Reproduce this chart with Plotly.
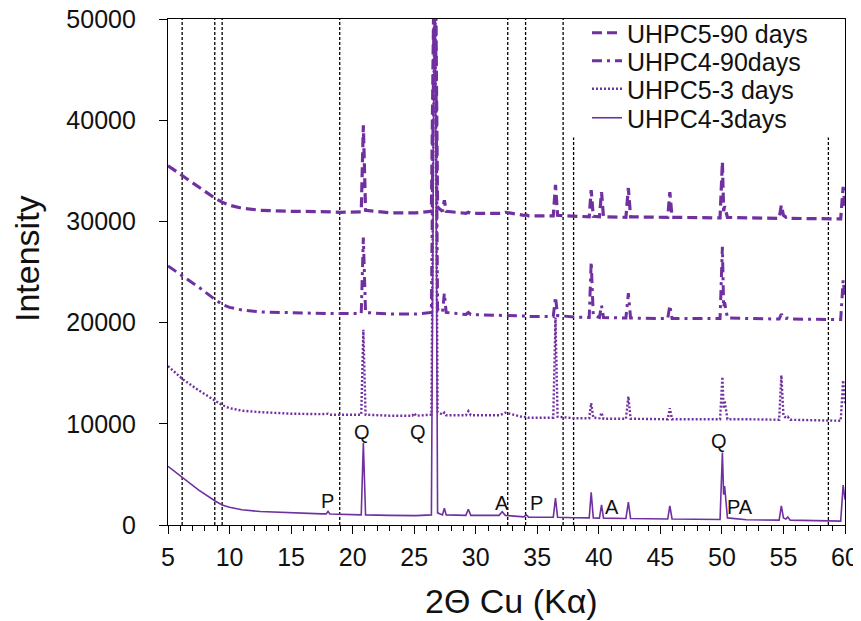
import plotly.graph_objects as go

# ---- data ----
two_theta = [5, 6.2, 7.5, 8.8, 9.4, 10, 11, 12.5, 15, 17.5,
             17.85, 18.0, 18.15, 19.0, 20.7, 20.87, 21.05, 23.0, 24.85, 25.0,
             25.15, 26.4, 26.62, 26.68, 26.9, 27.3, 27.45, 27.6, 29.2, 29.4,
             29.6, 31.9, 32.15, 32.4, 33.9, 34.1, 34.3, 36.3, 36.48, 36.65,
             38.0, 39.22, 39.38, 39.55, 40.05, 40.22, 40.38, 42.2, 42.4, 42.58,
             45.6, 45.77, 45.95, 49.85, 50.04, 50.14, 50.22, 50.45, 52.0, 54.65,
             54.83, 55.0, 55.2, 55.35, 55.55, 57.5, 59.65, 59.85, 60.0]

uhpc4_3d = [5800, 4650, 3450, 2400, 1980, 1750, 1500, 1330, 1180, 1100,
            1100, 1350, 1080, 1030, 1000, 8100, 1000, 950, 930, 1000,
            930, 1000, 62000, 62000, 1200, 1000, 1650, 1000, 950, 1550,
            950, 950, 1300, 950, 800, 1000, 780, 770, 2650, 760,
            720, 700, 3230, 700, 680, 2000, 680, 640, 2250, 640,
            600, 1900, 600, 540, 7150, 3000, 3850, 700, 520, 480,
            1900, 700, 600, 800, 480, 420, 380, 3950, 2500]

uhpc5_3d = [15700, 14400, 13300, 12300, 11850, 11550, 11300, 11150, 11000, 10950,
            10950, 11000, 10900, 10880, 10900, 19300, 10900, 10800, 10800, 11050,
            10800, 10900, 62000, 62000, 11200, 10900, 11100, 10850, 10850, 11250,
            10850, 10850, 10950, 11100, 10650, 10700, 10600, 10600, 20500, 10700,
            10550, 10550, 12050, 10600, 10550, 11100, 10500, 10500, 12700, 10500,
            10450, 11550, 10450, 10450, 14650, 11500, 12300, 10450, 10450, 10400,
            14800, 10800, 10600, 10700, 10400, 10350, 10300, 14300, 12000]

uhpc4_90d = [25600, 24600, 23500, 22300, 21800, 21500, 21250, 21050, 20950, 20900,
             20900, 20950, 20900, 20900, 20900, 28400, 21000, 20850, 20850, 20900,
             20850, 21000, 62000, 62000, 21300, 21000, 22900, 21000, 20800, 21000,
             20800, 20700, 20750, 20700, 20650, 20700, 20600, 20600, 22550, 20700,
             20550, 20500, 26000, 20700, 20500, 21700, 20500, 20450, 22900, 20450,
             20400, 21700, 20400, 20400, 27500, 21500, 22000, 20450, 20400, 20350,
             20850, 20450, 20400, 20450, 20350, 20350, 20300, 24200, 22500]

uhpc5_90d = [35500, 34500, 33400, 32300, 31900, 31600, 31300, 31100, 31000, 30950,
             30950, 31000, 30950, 30900, 30950, 39500, 31100, 30850, 30850, 30900,
             30850, 31000, 62000, 62000, 31400, 31000, 32100, 31000, 30800, 30900,
             30800, 30750, 30800, 30900, 30600, 30650, 30550, 30550, 33600, 30600,
             30500, 30450, 33100, 30500, 30450, 32900, 30450, 30400, 33300, 30450,
             30400, 32900, 30400, 30350, 35900, 31000, 31500, 30400, 30350, 30300,
             31600, 30600, 30400, 30450, 30300, 30300, 30250, 33400, 31500]

series_names = ["UHPC5-90 days", "UHPC4-90days", "UHPC5-3 days", "UHPC4-3days"]

ref_lines_full = [6.15, 8.8, 9.4, 18.95, 32.6, 34.05, 37.1]
ref_lines_short = [37.95, 58.65]
short_line_top = 38300

peak_labels = ["P", "Q", "Q", "A", "P", "A", "Q", "PA"]
peak_label_x = [17.95, 20.78, 25.33, 32.1, 34.95, 41.05, 49.76, 51.5]
peak_label_y = [2400, 9220, 9220, 2140, 2140, 1810, 8330, 1810]

x_ticks = [5, 10, 15, 20, 25, 30, 35, 40, 45, 50, 55, 60]
y_ticks = [0, 10000, 20000, 30000, 40000, 50000]

x_title = "2Θ Cu (Kα)"
y_title = "Intensity"

# ---- figure ----
PURPLE = "#7030A0"
FONT = "Liberation Sans, Arial"
PAGE_OFFSET = 8  # default body margin of the html page
ys = [uhpc5_90d, uhpc4_90d, uhpc5_3d, uhpc4_3d]
dashes = ["10px,5px", "10px,5px,3px,5px", "2px,2px", "solid"]
widths = [3.2, 3.0, 2.4, 1.6]
legend_ids = ["legend", "legend2", "legend3", "legend4"]
legend_rows_px = [25, 53, 81, 110]
legend_y = [1 - v / 621 for v in legend_rows_px]

fig = go.Figure()
for name, y, d, w, lg in zip(series_names, ys, dashes, widths, legend_ids):
    fig.add_trace(go.Scatter(x=two_theta, y=y, mode="lines", name=name,
                             line=dict(color=PURPLE, width=w, dash=d),
                             legend=lg))

shapes = []
for xv in ref_lines_full:
    shapes.append(dict(type="line", xref="x", yref="y", x0=xv, x1=xv, y0=0, y1=50000,
                       line=dict(color="black", width=1.3, dash="3px,2px"), layer="below"))
for xv in ref_lines_short:
    shapes.append(dict(type="line", xref="x", yref="y", x0=xv, x1=xv, y0=0, y1=short_line_top,
                       line=dict(color="black", width=1.3, dash="3px,2px"), layer="below"))

annotations = []
for t, xv, yv in zip(peak_labels, peak_label_x, peak_label_y):
    annotations.append(dict(x=xv, y=yv, xref="x", yref="y", text=t, showarrow=False,
                            font=dict(size=20, color="#111", family=FONT)))
# axis titles
annotations.append(dict(x=(511 - 168) / 677, y=(525 - 601) / 506, xref="paper", yref="paper",
                        text=x_title, showarrow=False, xanchor="center", yanchor="middle",
                        font=dict(size=34, color="#111", family=FONT)))
annotations.append(dict(x=(27 - 168) / 677, y=(525 - 259) / 506, xref="paper", yref="paper",
                        text=y_title, showarrow=False, textangle=-90,
                        xanchor="center", yanchor="middle",
                        font=dict(size=34, color="#111", family=FONT)))

leg_common = dict(font=dict(size=25, color="#111", family=FONT),
                  bgcolor="rgba(0,0,0,0)", xanchor="left", yanchor="middle",
                  xref="container", yref="container",
                  x=579 / 861, borderwidth=0)
legends = {}
for lg, yv in zip(legend_ids, legend_y):
    legends[lg] = dict(leg_common, y=yv)

fig.update_layout(
    width=861, height=621,
    margin=dict(l=168 - PAGE_OFFSET, r=16 + PAGE_OFFSET, t=19 - PAGE_OFFSET,
                b=96 + PAGE_OFFSET, autoexpand=False),
    paper_bgcolor="white", plot_bgcolor="white",
    font=dict(family=FONT, color="#111"),
    showlegend=True,
    shapes=shapes, annotations=annotations,
    **legends,
)
fig.update_xaxes(range=[5, 60], tickvals=x_ticks, ticks="outside", ticklen=8,
                 tickcolor="black", tickwidth=1,
                 minor=dict(dtick=1, ticks="outside", ticklen=5, tickcolor="black", tickwidth=1),
                 showline=True, linecolor="black", linewidth=1.2, mirror=True,
                 showgrid=False, zeroline=False, ticklabelstandoff=2, automargin=False,
                 ticklabeloverflow="allow",
                 tickfont=dict(size=25, color="#111"))
fig.update_yaxes(range=[0, 50000], tickvals=y_ticks, tickformat=".0f",
                 ticks="outside", ticklen=8,
                 tickcolor="black", tickwidth=1,
                 showline=True, linecolor="black", linewidth=1.2, mirror=True,
                 showgrid=False, zeroline=False, ticklabelstandoff=18, automargin=False,
                 ticklabeloverflow="allow",
                 tickfont=dict(size=25, color="#111"))

fig.write_html("out.html")
